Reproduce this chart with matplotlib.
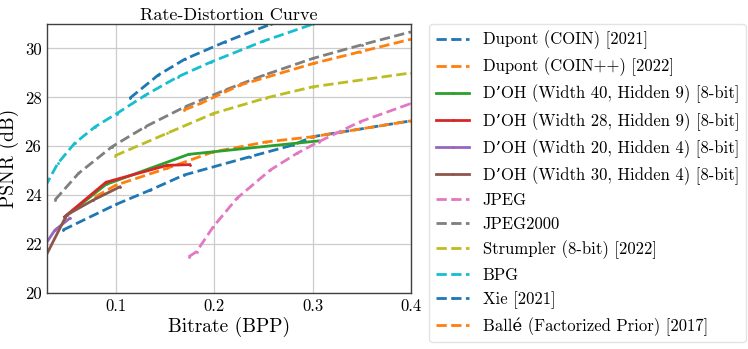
import matplotlib
matplotlib.use("Agg")
import matplotlib.pyplot as plt

plt.rcParams['font.family'] = ['cmr10', 'DejaVu Serif']
plt.rcParams['axes.unicode_minus'] = False
plt.rcParams['mathtext.fontset'] = 'cm'

# ---- data ----
coin_x = [0.046, 0.1, 0.135, 0.169, 0.236, 0.280, 0.300, 0.400]
coin_y = [22.57, 23.62, 24.21, 24.82, 25.57, 26.05, 26.39, 27.04]

coinpp_x = [0.079, 0.1, 0.152, 0.199, 0.253, 0.300, 0.400]
coinpp_y = [23.93, 24.41, 25.10, 25.77, 26.18, 26.39, 27.04]

doh40_x = [0.048, 0.090, 0.174, 0.306]
doh40_y = [23.10, 24.44, 25.67, 26.22]

doh28_x = [0.048, 0.090, 0.152, 0.175]
doh28_y = [23.12, 24.53, 25.22, 25.25]

doh20_x = [0.029, 0.038, 0.053]
doh20_y = [22.03, 22.57, 23.05]

doh30_x = [0.028, 0.050, 0.077, 0.104]
doh30_y = [21.45, 23.19, 23.80, 24.34]

jpeg_x = [0.174, 0.182, 0.199, 0.223, 0.257, 0.284, 0.306, 0.348, 0.400]
jpeg_y = [21.48, 21.69, 22.71, 23.87, 25.03, 25.71, 26.18, 27.00, 27.75]

j2k_x = [0.038, 0.062, 0.096, 0.130, 0.170, 0.211, 0.250, 0.300, 0.350, 0.400]
j2k_y = [23.80, 24.89, 25.98, 26.80, 27.61, 28.30, 28.90, 29.59, 30.15, 30.68]

strum_x = [0.099, 0.152, 0.199, 0.253, 0.300, 0.400]
strum_y = [25.61, 26.53, 27.34, 27.98, 28.43, 29.00]

bpg_x = [0.028, 0.041, 0.058, 0.079, 0.101, 0.130, 0.163, 0.197, 0.250, 0.300, 0.350]
bpg_y = [24.34, 25.30, 26.12, 26.80, 27.34, 28.09, 28.84, 29.45, 30.30, 30.99, 31.60]

xie_x = [0.114, 0.143, 0.170, 0.211, 0.258, 0.300]
xie_y = [27.96, 28.91, 29.56, 30.27, 31.00, 31.50]

balle_x = [0.169, 0.186, 0.226, 0.301, 0.348, 0.399]
balle_y = [27.48, 27.75, 28.50, 29.39, 29.86, 30.37]

series = [
    (coin_x, coin_y, 'Dupont (COIN) [2021]', '--', 'C0'),
    (coinpp_x, coinpp_y, 'Dupont (COIN++) [2022]', '--', 'C1'),
    (doh40_x, doh40_y, 'D\u2019OH (Width 40, Hidden 9) [8-bit]', '-', 'C2'),
    (doh28_x, doh28_y, 'D\u2019OH (Width 28, Hidden 9) [8-bit]', '-', 'C3'),
    (doh20_x, doh20_y, 'D\u2019OH (Width 20, Hidden 4) [8-bit]', '-', 'C4'),
    (doh30_x, doh30_y, 'D\u2019OH (Width 30, Hidden 4) [8-bit]', '-', 'C5'),
    (jpeg_x, jpeg_y, 'JPEG', '--', 'C6'),
    (j2k_x, j2k_y, 'JPEG2000', '--', 'C7'),
    (strum_x, strum_y, 'Strumpler (8-bit) [2022]', '--', 'C8'),
    (bpg_x, bpg_y, 'BPG', '--', 'C9'),
    (xie_x, xie_y, 'Xie [2021]', '--', 'C0'),
    (balle_x, balle_y, 'Ball\u00e9 (Factorized Prior) [2017]', '--', 'C1'),
]

fig = plt.figure(figsize=(7.48, 3.49), dpi=100)
ax = fig.add_axes([47/748, 1-293/349, (411-47)/748, (293-24)/349])

for x, y, lab, ls, c in series:
    ax.plot(x, y, ls, color=c, lw=2, marker='.', markersize=2, label=lab)

ax.set_xlim(0.03, 0.4)
ax.set_ylim(20, 31)
ax.set_xticks([0.1, 0.2, 0.3, 0.4])
ax.set_xticklabels(['0.1', '0.2', '0.3', '0.4'])
ax.set_yticks([20, 22, 24, 26, 28, 30])
ax.grid(True, color='#cccccc', lw=0.9)
ax.set_axisbelow(True)
ax.tick_params(length=0, labelsize=12, pad=4)
for s in ax.spines.values():
    s.set_color('#404040')
    s.set_linewidth(1.0)
ax.set_xlabel('Bitrate (BPP)', fontsize=14, labelpad=2)
ax.set_ylabel('PSNR (dB)', fontsize=14, labelpad=4)
ax.set_title('Rate-Distortion Curve', fontsize=13, pad=3)

leg = ax.legend(loc='upper left', bbox_to_anchor=(1.05, 1.0), borderaxespad=0,
                fontsize=12, frameon=True, handlelength=2.0)
leg.get_frame().set_edgecolor('#dddddd')

fig.savefig('out.png', dpi=100)
